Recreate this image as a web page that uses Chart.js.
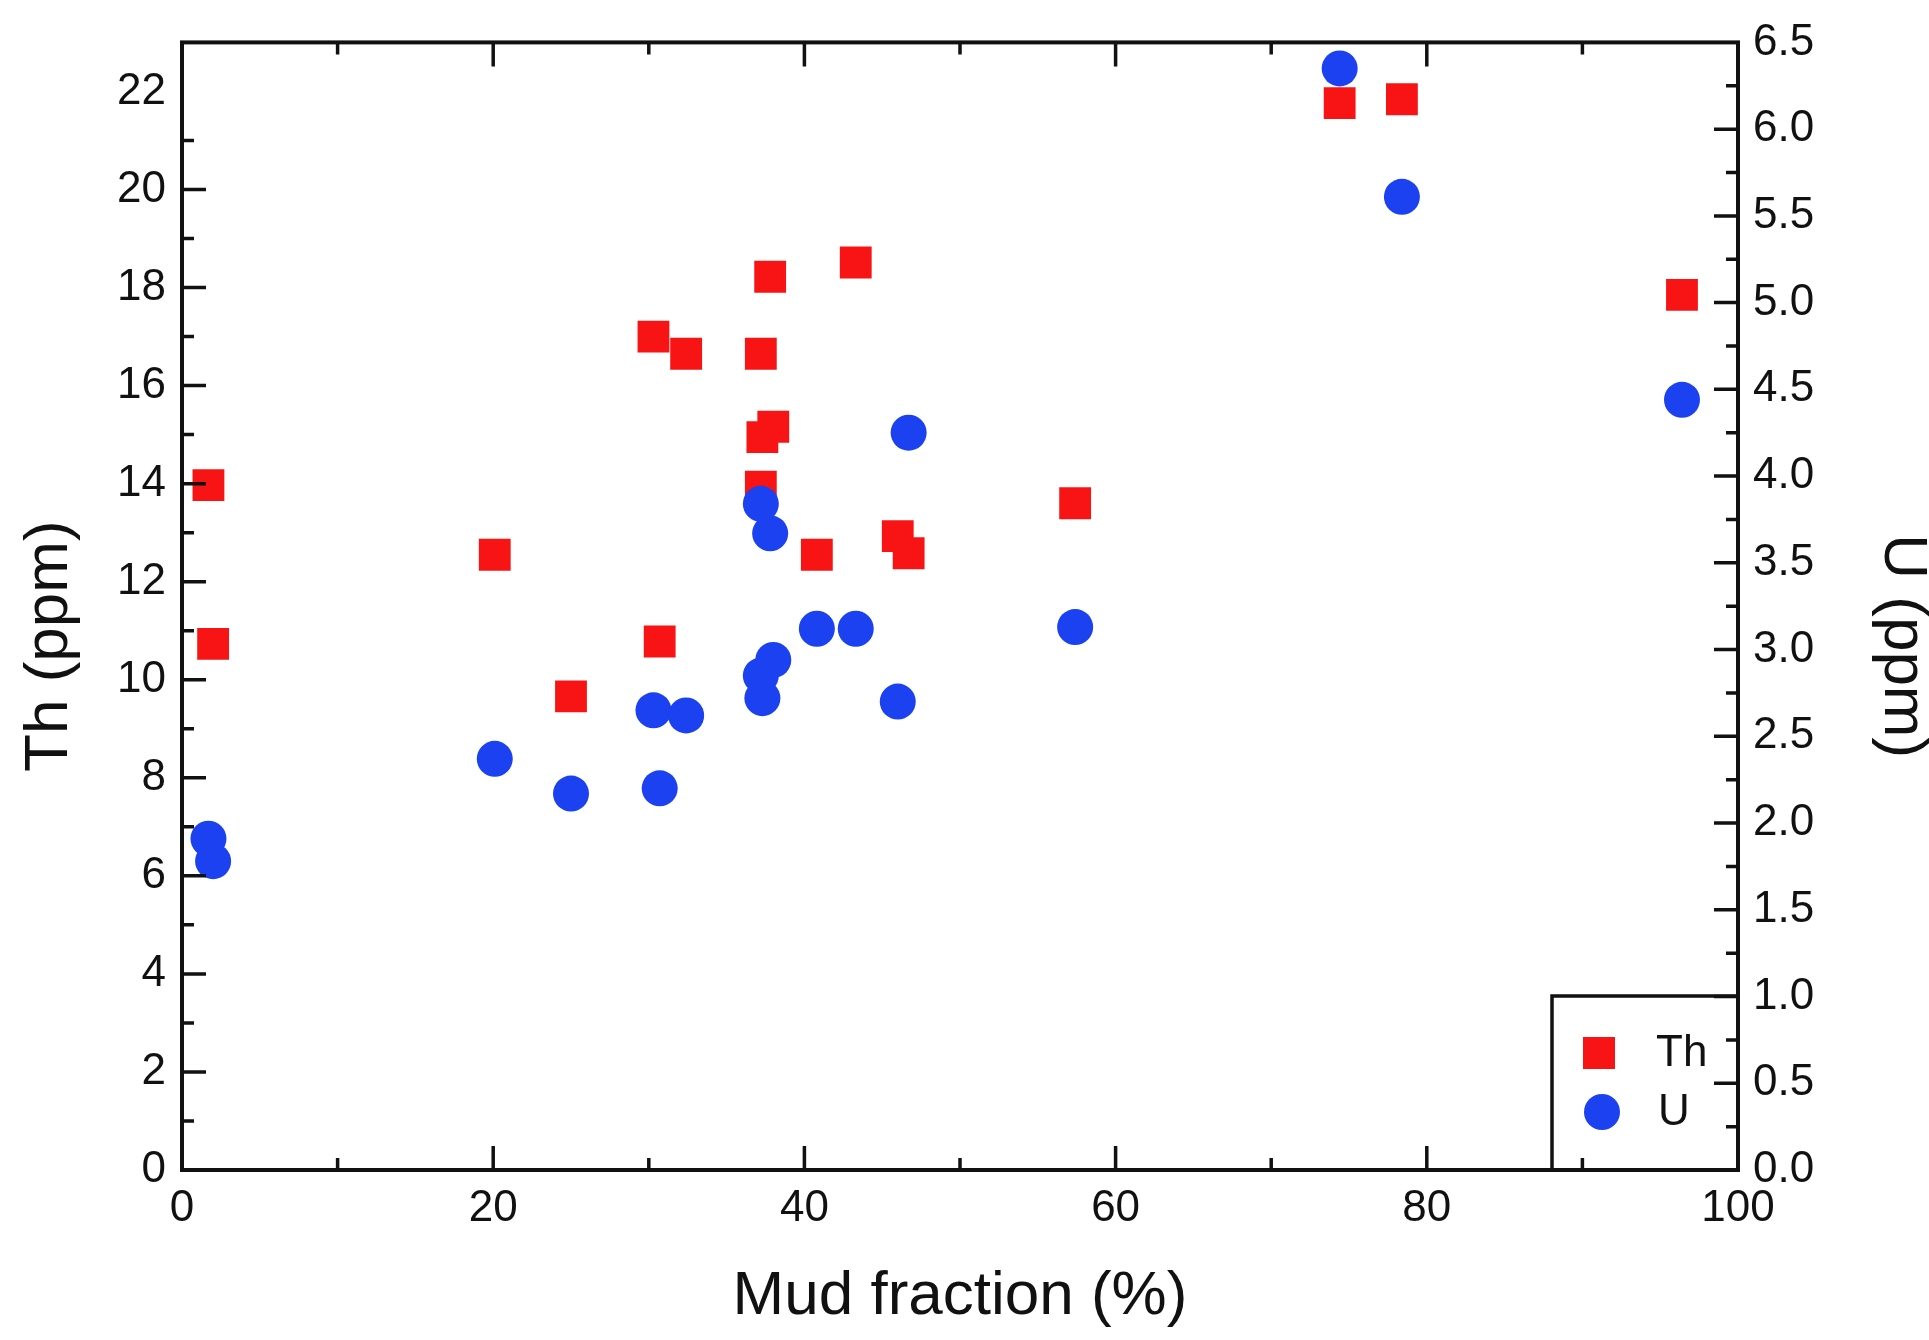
<!DOCTYPE html>
<html>
<head>
<meta charset="utf-8">
<script src="https://cdn.jsdelivr.net/npm/chart.js@4.4.1/dist/chart.umd.min.js"></script>
<style>
  html, body { margin: 0; padding: 0; background: #fff; }
  #wrap { width: 1929px; height: 1340px; position: relative; }
</style>
</head>
<body>
<div id="wrap"><canvas id="thU"></canvas></div>
<script>
// one entry per sample: mud fraction (%) with its Th and U content (ppm)
const mudFraction = [1.7, 2.0, 20.1, 25.0, 30.3, 30.7, 32.4, 37.2, 37.8, 38.0, 37.3, 37.2, 43.3, 40.8, 46.0, 46.7, 57.4, 74.4, 78.4, 96.4];
const thPpm = [13.97, 10.73, 12.55, 9.66, 17.0, 10.78, 16.65, 16.65, 18.22, 15.16, 14.95, 13.94, 18.51, 12.55, 12.93, 12.58, 13.6, 21.76, 21.84, 17.85];
const uPpm = [1.91, 1.78, 2.37, 2.17, 2.65, 2.20, 2.62, 2.85, 3.67, 2.94, 2.72, 3.84, 3.12, 3.12, 2.70, 4.25, 3.13, 6.35, 5.61, 4.44];

const mudTicks = [0, 20, 40, 60, 80, 100];
const thTicks = [0, 2, 4, 6, 8, 10, 12, 14, 16, 18, 20, 22];
const uTicks = [0, 0.5, 1, 1.5, 2, 2.5, 3, 3.5, 4, 4.5, 5, 5.5, 6, 6.5];

const RED = '#f81414';
const BLUE = '#1b41f0';
const INK = '#111';

Chart.defaults.font.family = "'Liberation Sans', Arial, sans-serif";
Chart.defaults.color = INK;

const pts = (ys) => mudFraction.map((x, i) => ({ x: x, y: ys[i] }));

// frame, inward ticks, y titles and the boxed legend
const decorations = {
  id: 'decorations',
  afterDraw(chart) {
    const { ctx, chartArea: a, scales } = chart;
    ctx.save();
    ctx.strokeStyle = INK;
    ctx.lineWidth = 3.5;

    const marks = (scale, ticks, draw) => {
      ticks.forEach((v, i) => {
        if (i > 0 && i < ticks.length - 1) draw(scale.getPixelForValue(v), 24);
        if (i < ticks.length - 1) draw(scale.getPixelForValue((v + ticks[i + 1]) / 2), 12);
      });
    };
    ctx.beginPath();
    marks(scales.x, mudTicks, (p, len) => {
      ctx.moveTo(p, a.bottom); ctx.lineTo(p, a.bottom - len);
      ctx.moveTo(p, a.top); ctx.lineTo(p, a.top + len);
    });
    marks(scales.th, thTicks, (p, len) => { ctx.moveTo(a.left, p); ctx.lineTo(a.left + len, p); });
    marks(scales.u, uTicks, (p, len) => { ctx.moveTo(a.right, p); ctx.lineTo(a.right - len, p); });
    ctx.stroke();

    ctx.lineWidth = 4;
    ctx.strokeRect(a.left, a.top, a.right - a.left, a.bottom - a.top);

    // y titles sit a little below the middle of the plot
    const midY = (a.top + a.bottom) / 2 + 40;
    ctx.fillStyle = INK;
    ctx.font = "62px 'Liberation Sans', Arial, sans-serif";
    ctx.textAlign = 'center';
    ctx.textBaseline = 'middle';
    ctx.save();
    ctx.translate(50, midY); ctx.rotate(-Math.PI / 2);
    ctx.fillText('Th (ppm)', 0, 0);
    ctx.restore();
    ctx.save();
    ctx.translate(1902, midY); ctx.rotate(Math.PI / 2);
    ctx.fillText('U (ppm)', 0, 0);
    ctx.restore();

    // legend box in the lower right corner
    const bx = a.right - 186, by = a.bottom - 174;
    ctx.lineWidth = 3.5;
    ctx.beginPath();
    ctx.moveTo(bx, a.bottom); ctx.lineTo(bx, by); ctx.lineTo(a.right, by);
    ctx.stroke();
    ctx.fillStyle = RED;
    ctx.fillRect(bx + 31, by + 41, 32, 32);
    ctx.fillStyle = BLUE;
    ctx.beginPath(); ctx.arc(bx + 50, by + 116, 18, 0, Math.PI * 2); ctx.fill();
    ctx.fillStyle = INK;
    ctx.font = "44px 'Liberation Sans', Arial, sans-serif";
    ctx.textAlign = 'left';
    ctx.fillText('Th', bx + 104, by + 58);
    ctx.fillText('U', bx + 106, by + 117);
    ctx.restore();
  }
};

new Chart(document.getElementById('thU'), {
  type: 'scatter',
  data: {
    datasets: [
      { label: 'Th', data: pts(thPpm), yAxisID: 'th', order: 2,
        pointStyle: 'rect', pointRadius: 22.5, pointHoverRadius: 22.5,
        backgroundColor: RED, borderWidth: 0 },
      { label: 'U', data: pts(uPpm), yAxisID: 'u', order: 1,
        pointStyle: 'circle', pointRadius: 18, pointHoverRadius: 18,
        backgroundColor: BLUE, borderWidth: 0 }
    ]
  },
  options: {
    responsive: true,
    maintainAspectRatio: false,
    animation: false,
    layout: { padding: { top: 39, left: 0, right: 0, bottom: 0 } },
    plugins: { legend: { display: false }, tooltip: { enabled: false } },
    scales: {
      x: {
        type: 'linear', min: 0, max: 100,
        afterBuildTicks: s => { s.ticks = mudTicks.map(v => ({ value: v })); },
        afterFit: s => { s.height = 170; },
        grid: { display: false, drawTicks: false },
        border: { display: false },
        ticks: { font: { size: 44 }, padding: 12, maxRotation: 0 },
        title: { display: true, text: 'Mud fraction (%)', font: { size: 62 }, padding: { top: 0, bottom: 6 } }
      },
      th: {
        type: 'linear', position: 'left', min: 0, max: 23,
        afterBuildTicks: s => { s.ticks = thTicks.map(v => ({ value: v })); },
        afterFit: s => { s.width = 182; },
        grid: { display: false, drawTicks: false },
        border: { display: false },
        ticks: { font: { size: 44 }, padding: 16 }
      },
      u: {
        type: 'linear', position: 'right', min: 0, max: 6.5,
        afterBuildTicks: s => { s.ticks = uTicks.map(v => ({ value: v })); },
        afterFit: s => { s.width = 191; },
        grid: { display: false, drawTicks: false },
        border: { display: false },
        ticks: { font: { size: 44 }, padding: 15, callback: v => v.toFixed(1) }
      }
    }
  },
  plugins: [decorations]
});
</script>
</body>
</html>
